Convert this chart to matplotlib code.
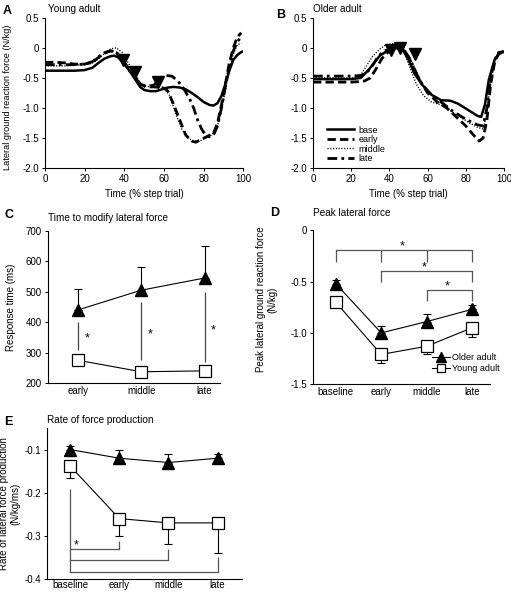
import numpy as np
import matplotlib.pyplot as plt

plt.rcParams['font.family'] = ['Liberation Sans', 'DejaVu Sans']
plt.rcParams['axes.unicode_minus'] = False

# ---- panel A: young adult force traces (% step trial vs N/kg)
ya_base_t = [0, 5, 10, 15, 20, 24, 27, 30, 33, 35, 37, 40, 43, 46, 48, 50, 53, 56, 59, 62, 65, 68,
             71, 74, 77, 80, 83, 85, 87, 89, 91, 93, 95, 97, 99, 100]
ya_base_v = [-0.38, -0.38, -0.38, -0.38, -0.37, -0.33, -0.25, -0.18, -0.14, -0.13, -0.16, -0.27, -0.4,
             -0.55, -0.65, -0.7, -0.72, -0.72, -0.69, -0.66, -0.65, -0.66, -0.69, -0.75, -0.82, -0.9,
             -0.95, -0.96, -0.92, -0.8, -0.6, -0.38, -0.2, -0.12, -0.07, -0.06]
ya_early_t = [0, 5, 10, 15, 20, 24, 27, 30, 33, 36, 39, 42, 45, 48, 51, 55, 58, 60, 62, 65, 68, 71,
              74, 76, 79, 82, 85, 87, 89, 91, 93, 95, 97, 99]
ya_early_v = [-0.24, -0.24, -0.25, -0.27, -0.27, -0.24, -0.16, -0.09, -0.05, -0.08, -0.2, -0.33,
              -0.45, -0.6, -0.65, -0.65, -0.66, -0.67, -0.72, -0.95, -1.2, -1.45, -1.55, -1.57,
              -1.52, -1.47, -1.42, -1.25, -0.95, -0.6, -0.25, 0.0, 0.18, 0.25]
ya_mid_t = [0, 5, 10, 15, 20, 24, 27, 30, 33, 36, 39, 42, 45, 48, 51, 55, 58, 60, 63, 66, 69, 72,
            75, 78, 81, 84, 87, 89, 91, 93, 95, 97, 99]
ya_mid_v = [-0.3, -0.3, -0.3, -0.29, -0.28, -0.25, -0.18, -0.09, -0.02, 0.0, -0.08, -0.25, -0.42,
            -0.58, -0.64, -0.65, -0.65, -0.66, -0.8, -1.1, -1.35, -1.5, -1.55, -1.55, -1.5, -1.45,
            -1.3, -1.05, -0.7, -0.35, -0.1, 0.05, 0.08]
ya_late_t = [0, 5, 10, 15, 20, 24, 27, 30, 33, 36, 39, 42, 45, 48, 51, 55, 58, 61, 64, 67, 70, 73,
             75, 77, 79, 81, 83, 85, 87, 89, 91, 93, 95, 97, 99]
ya_late_v = [-0.28, -0.28, -0.28, -0.28, -0.27, -0.23, -0.15, -0.08, -0.05, -0.07, -0.2, -0.35,
             -0.48, -0.6, -0.64, -0.62, -0.5, -0.46, -0.47, -0.55, -0.68, -0.85, -1.0, -1.2, -1.35,
             -1.45, -1.48, -1.45, -1.3, -1.0, -0.65, -0.3, -0.05, 0.1, 0.18]
ya_onset_t = [39.6, 45.5, 56.8]
ya_onset_v = [-0.2, -0.4, -0.57]

# ---- panel B: older adult force traces
oa_base_t = [0, 5, 10, 15, 20, 25, 29, 32, 35, 40, 43, 47, 50, 53, 57, 62, 67, 72, 76, 81, 86, 88,
             90, 92, 95, 98, 100]
oa_base_v = [-0.52, -0.52, -0.52, -0.52, -0.52, -0.5, -0.37, -0.25, -0.13, -0.03, 0.0, -0.03, -0.2,
             -0.42, -0.61, -0.78, -0.87, -0.88, -0.93, -1.03, -1.13, -1.15, -0.94, -0.53, -0.2,
             -0.08, -0.07]
oa_early_t = [0, 5, 10, 15, 20, 25, 27, 30, 33, 36, 40, 44, 47, 50, 53, 56, 60, 65, 70, 75, 80, 84,
              87, 89, 91, 93, 95, 97, 100]
oa_early_v = [-0.57, -0.57, -0.57, -0.57, -0.57, -0.56, -0.55, -0.5, -0.35, -0.18, -0.05, 0.0, -0.03,
              -0.15, -0.35, -0.55, -0.75, -0.9, -1.0, -1.15, -1.3, -1.45, -1.55, -1.5, -1.2, -0.6,
              -0.25, -0.1, -0.07]
oa_mid_t = [0, 5, 10, 15, 20, 22, 25, 28, 31, 35, 38, 42, 45, 48, 51, 54, 58, 62, 67, 72, 77, 82,
            86, 89, 91, 93, 95, 97, 100]
oa_mid_v = [-0.5, -0.5, -0.5, -0.5, -0.5, -0.49, -0.45, -0.3, -0.15, -0.02, 0.05, 0.07, 0.03, -0.1,
            -0.35, -0.6, -0.8, -0.9, -0.95, -1.05, -1.15, -1.25, -1.32, -1.35, -1.1, -0.5, -0.2,
            -0.08, -0.05]
oa_late_t = [0, 5, 10, 15, 20, 25, 28, 31, 34, 37, 41, 45, 48, 51, 54, 57, 61, 65, 69, 73, 78, 82,
             86, 89, 91, 93, 95, 97, 100]
oa_late_v = [-0.47, -0.47, -0.47, -0.47, -0.47, -0.46, -0.42, -0.3, -0.15, -0.05, -0.02, 0.0, -0.05,
             -0.2, -0.42, -0.6, -0.75, -0.85, -0.95, -1.05, -1.15, -1.22, -1.28, -1.3, -1.0, -0.5,
             -0.2, -0.08, -0.06]
oa_onset_t = [41.0, 45.7, 53.5]
oa_onset_v = [-0.04, -0.01, -0.11]

# ---- panel C: response time (ms)
c_cats = ['early', 'middle', 'late']
c_old = [440, 505, 545]
c_old_err = [70, 77, 105]
c_young = [275, 237, 240]
c_young_err = [12, 8, 18]
c_sig_top = [400, 465, 500]
c_sig_bot = [310, 275, 268]

# ---- panel D: peak lateral force (N/kg)
d_cats = ['baseline', 'early', 'middle', 'late']
d_old = [-0.52, -1.0, -0.89, -0.77]
d_old_err = [0.04, 0.07, 0.07, 0.04]
d_young = [-0.70, -1.21, -1.13, -0.95]
d_young_err = [0.03, 0.08, 0.08, 0.09]

# ---- panel E: rate of force production (N/kg/ms)
e_cats = ['baseline', 'early', 'middle', 'late']
e_old = [-0.10, -0.12, -0.13, -0.12]
e_old_err = [0.008, 0.02, 0.02, 0.01]
e_young = [-0.138, -0.26, -0.27, -0.27]
e_young_err = [0.028, 0.04, 0.05, 0.07]

fig = plt.figure(figsize=(5.11, 5.92), dpi=100)

tick_fs = 7
lab_fs = 7


def style(ax):
    ax.spines['top'].set_visible(False)
    ax.spines['right'].set_visible(False)
    ax.tick_params(direction='out', length=2.5, width=0.7, labelsize=tick_fs, pad=2)
    for s in ['left', 'bottom']:
        ax.spines[s].set_linewidth(0.8)


def trace_panel(ax, series, onset_t, onset_v):
    styles = [dict(ls='-', lw=1.8), dict(ls=(0, (3, 1.5)), lw=2.0),
              dict(ls=(0, (0.8, 1.2)), lw=1.0), dict(ls=(0, (3.5, 1.5, 1, 1.5)), lw=2.0)]
    names = ['base', 'early', 'middle', 'late']
    for (t, v), st, nm in zip(series, styles, names):
        ax.plot(t, v, color='black', label=nm, **st)
    ax.plot(onset_t, onset_v, 'v', color='black', markersize=8, zorder=5)
    ax.set_xlim(0, 100)
    ax.set_ylim(-2.0, 0.5)
    ax.set_xticks([0, 20, 40, 60, 80, 100])
    ax.set_yticks([0.5, 0, -0.5, -1.0, -1.5, -2.0])
    ax.set_yticklabels(['0.5', '0', '-0.5', '-1.0', '-1.5', '-2.0'])
    ax.set_xlabel('Time (% step trial)', fontsize=lab_fs, labelpad=3)
    style(ax)


axA = fig.add_axes([0.088, 0.716, 0.388, 0.254])
trace_panel(axA, [(ya_base_t, ya_base_v), (ya_early_t, ya_early_v), (ya_mid_t, ya_mid_v),
                  (ya_late_t, ya_late_v)], ya_onset_t, ya_onset_v)
axA.set_ylabel('Lateral ground reaction force (N/kg)', fontsize=6.6)
axA.yaxis.set_label_coords(-0.165, 0.47)
fig.text(0.006, 0.982, 'A', fontsize=9, fontweight='bold', va='center')
fig.text(0.094, 0.985, 'Young adult', fontsize=7.2, va='center')

axB = fig.add_axes([0.6125, 0.716, 0.374, 0.254])
trace_panel(axB, [(oa_base_t, oa_base_v), (oa_early_t, oa_early_v), (oa_mid_t, oa_mid_v),
                  (oa_late_t, oa_late_v)], oa_onset_t, oa_onset_v)
axB.legend(loc='lower left', bbox_to_anchor=(0.03, -0.02), frameon=False, fontsize=6.5,
           handlelength=3.0, handletextpad=0.5, labelspacing=0.05)
fig.text(0.54, 0.975, 'B', fontsize=9, fontweight='bold', va='center')
fig.text(0.6125, 0.985, 'Older adult', fontsize=7.2, va='center')

# ---- C
axC = fig.add_axes([0.094, 0.353, 0.336, 0.257])
xc = np.arange(1, len(c_cats) + 1)
axC.errorbar(xc, c_old, yerr=[np.zeros(3), c_old_err], fmt='none', ecolor='black',
             elinewidth=0.8, capsize=3, capthick=0.8)
axC.errorbar(xc, c_young, yerr=[c_young_err, np.zeros(3)], fmt='none', ecolor='black',
             elinewidth=0.8, capsize=3, capthick=0.8)
axC.plot(xc, c_old, '-^', color='black', lw=0.8, markersize=9, zorder=4)
axC.plot(xc, c_young, '-s', color='black', mfc='white', mew=0.9, lw=0.8, markersize=8, zorder=4)
axC.vlines(xc, c_sig_bot, c_sig_top, color='#444444', lw=0.9)
for x, lo, hi in zip(xc, c_sig_bot, c_sig_top):
    axC.text(x + 0.14, (lo + hi) / 2 - 10, '*', fontsize=9, ha='center', va='center')
axC.set_xlim(0.53, 3.24)
axC.set_ylim(200, 700)
axC.set_xticks(xc)
axC.set_xticklabels(c_cats)
axC.set_yticks([200, 300, 400, 500, 600, 700])
axC.set_ylabel('Response time (ms)', fontsize=lab_fs)
axC.yaxis.set_label_coords(-0.185, 0.5)
style(axC)
axC.tick_params(axis='x', length=0)
fig.text(0.008, 0.637, 'C', fontsize=9, fontweight='bold', va='center')
fig.text(0.094, 0.632, 'Time to modify lateral force', fontsize=7.2, va='center')

# ---- D
axD = fig.add_axes([0.6125, 0.351, 0.347, 0.260])
xd = np.arange(1, len(d_cats) + 1)
axD.errorbar(xd, d_old, yerr=[np.zeros(4), d_old_err], fmt='none', ecolor='black',
             elinewidth=0.8, capsize=3, capthick=0.8)
axD.errorbar(xd, d_young, yerr=[d_young_err, np.zeros(4)], fmt='none', ecolor='black',
             elinewidth=0.8, capsize=3, capthick=0.8)
axD.plot(xd, d_old, '-^', color='black', lw=0.8, markersize=9, zorder=4, label='Older adult')
axD.plot(xd, d_young, '-s', color='black', mfc='white', mew=0.9, lw=0.8, markersize=8, zorder=4,
         label='Young adult')
br = dict(color='#555555', lw=0.9)
axD.plot([1, 4], [-0.19, -0.19], **br)
axD.vlines(xd, -0.31, -0.19, **br)
axD.plot([2, 4], [-0.40, -0.40], **br)
axD.vlines([2, 4], -0.50, -0.40, **br)
axD.plot([3, 4], [-0.58, -0.58], **br)
axD.vlines([3, 4], -0.69, -0.58, **br)
axD.text(2.47, -0.155, '*', fontsize=9, ha='center', va='center')
axD.text(2.95, -0.365, '*', fontsize=9, ha='center', va='center')
axD.text(3.45, -0.545, '*', fontsize=9, ha='center', va='center')
axD.legend(loc='lower right', bbox_to_anchor=(1.1, 0.02), frameon=False, fontsize=6.5,
           handlelength=2.0, handletextpad=0.3, labelspacing=0.2, markerscale=0.75)
axD.set_xlim(0.5, 4.4)
axD.set_ylim(-1.5, 0)
axD.set_xticks(xd)
axD.set_xticklabels(d_cats)
axD.set_yticks([0, -0.5, -1.0, -1.5])
axD.set_yticklabels(['0', '-0.5', '-1.0', '-1.5'])
axD.set_ylabel('Peak lateral ground reaction force\n(N/kg)', fontsize=lab_fs)
axD.yaxis.set_label_coords(-0.2, 0.55)
style(axD)
axD.tick_params(axis='x', length=0)
fig.text(0.528, 0.640, 'D', fontsize=9, fontweight='bold', va='center')
fig.text(0.6125, 0.640, 'Peak lateral force', fontsize=7.2, va='center')

# ---- E
axE = fig.add_axes([0.092, 0.022, 0.382, 0.255])
xe = np.arange(1, len(e_cats) + 1)
axE.errorbar(xe, e_old, yerr=[np.zeros(4), e_old_err], fmt='none', ecolor='black',
             elinewidth=0.8, capsize=3, capthick=0.8)
axE.errorbar(xe, e_young, yerr=[e_young_err, np.zeros(4)], fmt='none', ecolor='black',
             elinewidth=0.8, capsize=3, capthick=0.8)
axE.plot(xe, e_old, '-^', color='black', lw=0.8, markersize=9, zorder=4)
axE.plot(xe, e_young, '-s', color='black', mfc='white', mew=0.9, lw=0.8, markersize=8, zorder=4)
axE.vlines(1, -0.383, -0.191, **br)
axE.plot([1, 2], [-0.331, -0.331], **br)
axE.vlines(2, -0.331, -0.312, **br)
axE.plot([1, 3], [-0.356, -0.356], **br)
axE.vlines(3, -0.356, -0.331, **br)
axE.plot([1, 4], [-0.383, -0.383], **br)
axE.vlines(4, -0.383, -0.350, **br)
axE.text(1.13, -0.322, '*', fontsize=9, ha='center', va='center')
axE.set_xlim(0.53, 4.5)
axE.set_ylim(-0.4, -0.05)
axE.set_xticks(xe)
axE.set_xticklabels(e_cats)
axE.set_yticks([-0.4, -0.3, -0.2, -0.1])
axE.set_ylabel('Rate of lateral force production\n(N/kg/ms)', fontsize=lab_fs)
axE.yaxis.set_label_coords(-0.135, 0.5)
style(axE)
axE.tick_params(axis='x', length=0, pad=1)
fig.text(0.008, 0.287, 'E', fontsize=9, fontweight='bold', va='center')
fig.text(0.092, 0.290, 'Rate of force production', fontsize=7.2, va='center')

fig.savefig('out.png', dpi=100)
